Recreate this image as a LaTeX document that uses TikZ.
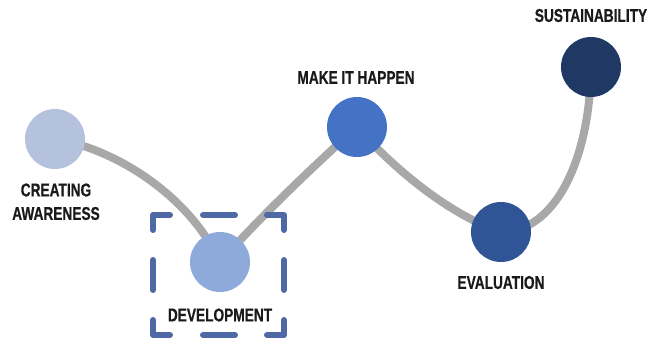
\documentclass[tikz,border=0pt]{standalone}
\usepackage{fontspec}
\setmainfont[FakeStretch=0.74,BoldFeatures={FakeBold=0.6}]{Liberation Sans}
\usetikzlibrary{backgrounds}
\definecolor{cA}{HTML}{B4C2DE}
\definecolor{cB}{HTML}{8EAADB}
\definecolor{cC}{HTML}{4472C4}
\definecolor{cD}{HTML}{2F5597}
\definecolor{cE}{HTML}{1F3864}
\definecolor{pathgray}{HTML}{A8A8A8}
\definecolor{boxblue}{HTML}{4F68A6}
\definecolor{txt}{HTML}{1A1A1A}
\tikzset{
  dot/.style={circle, minimum size=60pt, inner sep=0pt, draw=none},
  lbl/.style={font=\fontsize{18.5}{22}\selectfont\bfseries, text=txt, inner sep=0pt, align=center},
  track/.style={draw=pathgray, line width=8pt},
  dashbox/.style={draw=boxblue, line width=6pt, line cap=round, line join=round}
}
\begin{document}
\begin{tikzpicture}[x=1pt,y=-1pt]
\useasboundingbox (0,0) rectangle (649,344);
% circles
\node[dot, fill=cA] (c1) at (55,139) {};
\node[dot, fill=cB] (c2) at (220,262) {};
\node[dot, fill=cC] (c3) at (357,127) {};
\node[dot, fill=cD] (c4) at (501,232) {};
\node[dot, fill=cE] (c5) at (591,67) {};
% track
\begin{scope}[on background layer]
\draw[track] (c1.center) .. controls (112,148) and (188,193) .. (c2.center);
\draw[track] (c2.center) .. controls (262,215) and (318,162) .. (c3.center);
\draw[track] (c3.center) .. controls (395,170) and (450,215) .. (c4.center);
\draw[track] (c4.center) .. controls (555,232) and (590,160) .. (c5.center);
\end{scope}
% labels
\node[lbl] (l1a) at (56,190) {CREATING};
\node[lbl] (l1b) at (56,213.5) {AWARENESS};
\node[lbl] (l2) at (220,315) {DEVELOPMENT};
\node[lbl] (l3) at (356,77.5) {MAKE IT HAPPEN};
\node[lbl] (l4) at (501,282.5) {EVALUATION};
\node[lbl] (l5) at (591,15.5) {SUSTAINABILITY};
% dashed frame around development
\coordinate (tl) at (153,215);
\coordinate (tr) at (284,215);
\coordinate (bl) at (153,335);
\coordinate (br) at (284,335);
\draw[dashbox] ([xshift=17pt]tl) -- (tl) -- ([yshift=-15pt]tl);
\draw[dashbox] ([xshift=-17pt]tr) -- (tr) -- ([yshift=-15pt]tr);
\draw[dashbox] ([xshift=17pt]bl) -- (bl) -- ([yshift=15pt]bl);
\draw[dashbox] ([xshift=-17pt]br) -- (br) -- ([yshift=15pt]br);
\draw[dashbox] (203,215) -- (235,215);
\draw[dashbox] (203,335) -- (235,335);
\draw[dashbox] (153,260) -- (153,290);
\draw[dashbox] (284,260) -- (284,290);
\end{tikzpicture}
\end{document}
